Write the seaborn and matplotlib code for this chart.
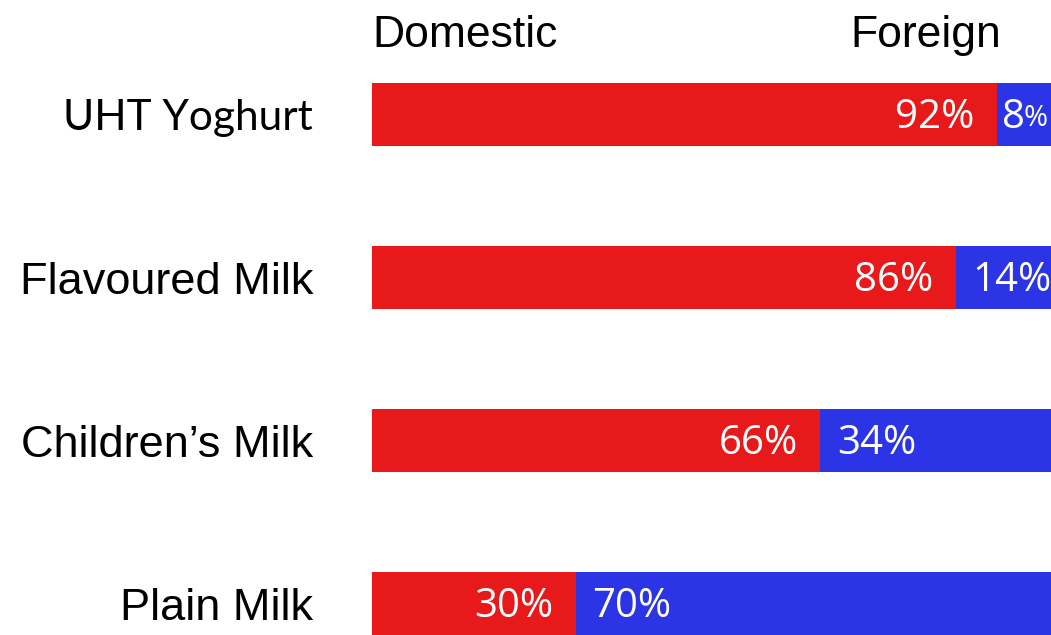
import matplotlib
matplotlib.use("Agg")
import matplotlib.pyplot as plt
import seaborn as sns
import pandas as pd

categories = ["UHT Yoghurt", "Flavoured Milk", "Children\u2019s Milk", "Plain Milk"]
domestic = [92, 86, 66, 30]
foreign = [8, 14, 34, 70]
headers = ["Domestic", "Foreign"]

RED = "#E8191B"
BLUE = "#2B35E5"

sns.set_theme(style="white")
plt.rcParams["font.family"] = ["Liberation Sans", "DejaVu Sans"]

W, H = 1051, 635
fig = plt.figure(figsize=(W / 100, H / 100), dpi=100)
ax = fig.add_axes([372 / W, 0, 679 / W, 1])

df = pd.DataFrame({"cat": categories, "dom": domestic, "for": foreign})
df["total"] = df["dom"] + df["for"]

sns.barplot(data=df, x="total", y="cat", color=BLUE, saturation=1, width=0.39,
            orient="h", ax=ax, linewidth=0)
sns.barplot(data=df, x="dom", y="cat", color=RED, saturation=1, width=0.39,
            orient="h", ax=ax, linewidth=0)

ax.set_xlim(0, 100)
ax.set_ylim(3.193, -0.7025)
ax.set_xlabel("")
ax.set_ylabel("")
ax.set_xticks([])
for s in ax.spines.values():
    s.set_visible(False)
ax.tick_params(axis="y", length=0, pad=42.5, labelsize=32.5, labelcolor="black")
ax.set_yticks(range(len(categories)))
ax.set_yticklabels(categories)
first = ax.get_yticklabels()[0]
first.set_family(["Lato", "DejaVu Sans"])
first.set_fontsize(30.5)

lab_font = ["Open Sans", "DejaVu Sans"]
for i, (d, f) in enumerate(zip(domestic, foreign)):
    ax.annotate(f"{d}%", xy=(d, i), xytext=(-16, -2), textcoords="offset points",
                ha="right", va="center", color="white", fontsize=29, family=lab_font)
    if f < 10:
        ax.annotate(f"{f}", xy=(d, i), xytext=(4, -2), textcoords="offset points",
                    ha="left", va="center", color="white", fontsize=29, family=lab_font)
        ax.annotate("%", xy=(d, i), xytext=(19, -3), textcoords="offset points",
                    ha="left", va="center", color="white", fontsize=21, family=lab_font)
    else:
        ax.annotate(f"{f}%", xy=(d, i), xytext=(12, -2), textcoords="offset points",
                    ha="left", va="center", color="white", fontsize=29, family=lab_font)

fig.text(372 / W, 1 - 47 / H, headers[0], ha="left", va="baseline", fontsize=32, color="black")
fig.text(850 / W, 1 - 47 / H, headers[1], ha="left", va="baseline", fontsize=32, color="black")

fig.savefig("out.png", dpi=100, facecolor="white")
